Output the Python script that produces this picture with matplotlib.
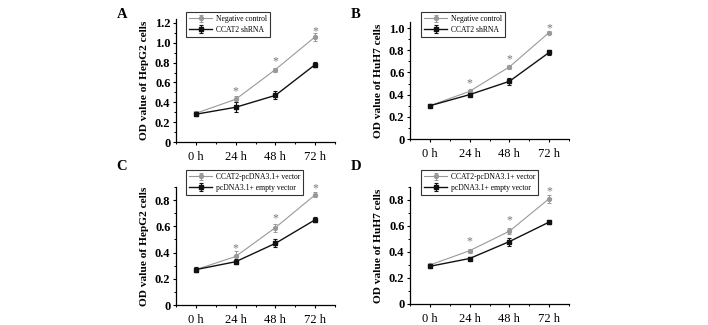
import matplotlib
matplotlib.use("Agg")
import matplotlib.pyplot as plt
from matplotlib.ticker import MultipleLocator

# Time points
time_labels = ["0 h", "24 h", "48 h", "72 h"]

# Panel A: HepG2, knockdown
a_ctrl = [0.29, 0.43, 0.73, 1.06]
a_ctrl_err = [0.02, 0.03, 0.02, 0.04]
a_sh = [0.28, 0.35, 0.47, 0.78]
a_sh_err = [0.02, 0.05, 0.04, 0.025]
a_star = [0.51, 0.81, 1.12]

# Panel B: HuH7, knockdown
b_ctrl = [0.30, 0.43, 0.65, 0.96]
b_ctrl_err = [0.02, 0.015, 0.02, 0.01]
b_sh = [0.30, 0.40, 0.52, 0.78]
b_sh_err = [0.015, 0.015, 0.03, 0.02]
b_star = [0.50, 0.72, 1.00]

# Panel C: HepG2, overexpression
c_ovx = [0.27, 0.37, 0.59, 0.84]
c_ovx_err = [0.02, 0.04, 0.03, 0.02]
c_vec = [0.27, 0.33, 0.47, 0.65]
c_vec_err = [0.02, 0.02, 0.03, 0.02]
c_star = [0.43, 0.66, 0.89]

# Panel D: HuH7, overexpression
d_ovx = [0.30, 0.41, 0.56, 0.81]
d_ovx_err = [0.015, 0.015, 0.025, 0.03]
d_vec = [0.29, 0.35, 0.48, 0.63]
d_vec_err = [0.01, 0.015, 0.03, 0.015]
d_star = [0.48, 0.64, 0.87]

kd_labels = ["Negative control", "CCAT2 shRNA"]
ox_labels = ["CCAT2-pcDNA3.1+ vector", "pcDNA3.1+ empty vector"]

W, H = 708, 325
SERIF = ["Liberation Serif", "DejaVu Serif"]
plt.rcParams["font.family"] = SERIF

fig = plt.figure(figsize=(W / 100, H / 100), dpi=100)


def px_axes(l, r, t, b):
    return fig.add_axes([l / W, 1 - b / H, (r - l) / W, (b - t) / H])


def panel(ax, gray_vals, gray_err, black_vals, black_err, stars, labels,
          ylabel, ymax, ytop, letter, letter_xy, leg_xy):
    x = range(len(time_labels))
    h1 = ax.errorbar(x, gray_vals, yerr=gray_err, color="#999999", lw=0.8,
                     marker="o", ms=2.8, capsize=1.5, elinewidth=0.7, capthick=0.7)
    h2 = ax.errorbar(x, black_vals, yerr=black_err, color="#111111", lw=1.0,
                     marker="s", ms=2.8, capsize=1.5, elinewidth=0.8, capthick=0.8)
    for i, s in enumerate(stars):
        ax.text(i + 1, s, "*", ha="center", va="center", fontsize=8.5,
                color="#777777")
    ax.set_xlim(-0.5, 3.5)
    ax.set_ylim(0, ytop)
    ax.set_xticks(list(x))
    ax.set_xticklabels(time_labels, fontsize=9)
    ax.xaxis.set_minor_locator(MultipleLocator(0.5))
    ax.yaxis.set_minor_locator(MultipleLocator(0.1))
    ticks = [round(0.2 * k, 1) for k in range(int(round(ymax / 0.2)) + 1)]
    ax.set_yticks(ticks)
    ax.set_yticklabels(["0"] + [f"{t:.1f}" for t in ticks[1:]],
                       fontsize=9, fontweight="bold")
    ax.set_ylabel(ylabel, fontsize=8.2, fontweight="bold", labelpad=4)
    ax.spines["top"].set_visible(False)
    ax.spines["right"].set_visible(False)
    for sp in ("left", "bottom"):
        ax.spines[sp].set_linewidth(0.9)
    ax.tick_params(which="major", length=2.5, width=0.8)
    ax.tick_params(which="minor", length=1.5, width=0.7)
    ax.tick_params(axis="y", pad=1.5)
    ax.tick_params(axis="x", pad=4)
    fig.text(letter_xy[0] / W, 1 - letter_xy[1] / H, letter, fontsize=10.5,
             fontweight="bold", ha="center", va="center")
    leg = fig.legend([h1, h2], labels, loc="upper left",
                     bbox_to_anchor=(leg_xy[0] / W, 1 - leg_xy[1] / H),
                     fontsize=5.5, frameon=True, fancybox=False,
                     borderpad=0.4, handlelength=3.0, handletextpad=0.5,
                     labelspacing=0.35, borderaxespad=0)
    leg.get_frame().set_edgecolor("black")
    leg.get_frame().set_linewidth(0.8)


ax_a = px_axes(176, 335, 19, 142)
panel(ax_a, a_ctrl, a_ctrl_err, a_sh, a_sh_err, a_star, kd_labels,
      "OD value of HepG2 cells", 1.2, 1.24, "A", (122, 15), (186, 12))

ax_b = px_axes(410, 569, 22, 139)
panel(ax_b, b_ctrl, b_ctrl_err, b_sh, b_sh_err, b_star, kd_labels,
      "OD value of HuH7 cells", 1.0, 1.055, "B", (356, 15), (421, 12))

ax_c = px_axes(176, 335, 187, 305)
panel(ax_c, c_ovx, c_ovx_err, c_vec, c_vec_err, c_star, ox_labels,
      "OD value of HepG2 cells", 0.8, 0.9, "C", (122, 166), (186, 170))

ax_d = px_axes(410, 569, 187, 304)
panel(ax_d, d_ovx, d_ovx_err, d_vec, d_vec_err, d_star, ox_labels,
      "OD value of HuH7 cells", 0.8, 0.9, "D", (356, 166), (421, 170))

fig.savefig("out.png", dpi=100)
